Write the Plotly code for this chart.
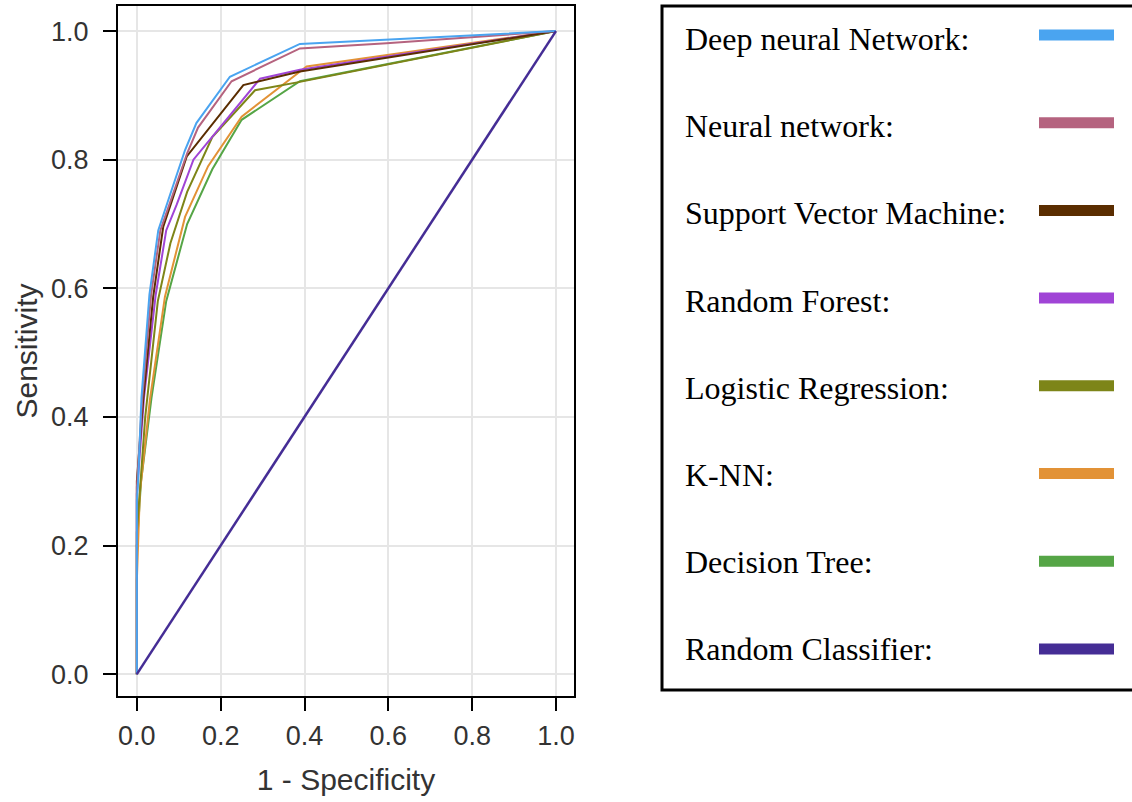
import plotly.graph_objects as go

# ---------------- data ----------------
model_names = ["Deep neural Network", "Neural network", "Support Vector Machine",
               "Random Forest", "Logistic Regression", "K-NN", "Decision Tree",
               "Random Classifier"]
model_colors = ["#4aa4f0", "#b5637f", "#5a2d00", "#a044d6", "#7d8518",
                "#e29236", "#55a546", "#452d95"]

dnn_fpr = [0, 0, 0.003, 0.011, 0.03, 0.051, 0.079, 0.115, 0.142, 0.222, 0.389, 1.0]
dnn_tpr = [0, 0.27, 0.30, 0.43, 0.59, 0.69, 0.745, 0.815, 0.857, 0.929, 0.980, 1.0]

nn_fpr = [0, 0, 0.013, 0.034, 0.056, 0.083, 0.12, 0.146, 0.226, 0.389, 0.596, 1.0]
nn_tpr = [0, 0.29, 0.43, 0.59, 0.69, 0.74, 0.81, 0.85, 0.922, 0.973, 0.981, 1.0]

svm_fpr = [0, 0, 0.015, 0.039, 0.063, 0.079, 0.119, 0.254, 0.389, 1.0]
svm_tpr = [0, 0.30, 0.426, 0.587, 0.696, 0.727, 0.805, 0.916, 0.937, 1.0]

rf_fpr = [0, 0, 0.017, 0.045, 0.07, 0.095, 0.135, 0.294, 0.389, 1.0]
rf_tpr = [0, 0.28, 0.43, 0.59, 0.69, 0.73, 0.80, 0.926, 0.94, 1.0]

lr_fpr = [0, 0, 0.02, 0.05, 0.08, 0.12, 0.18, 0.282, 0.389, 1.0]
lr_tpr = [0, 0.22, 0.40, 0.58, 0.67, 0.75, 0.835, 0.908, 0.921, 1.0]

knn_fpr = [0, 0, 0.007, 0.031, 0.067, 0.115, 0.17, 0.25, 0.405, 1.0]
knn_tpr = [0, 0.146, 0.28, 0.426, 0.587, 0.711, 0.79, 0.867, 0.945, 1.0]

dt_fpr = [0, 0, 0.01, 0.035, 0.07, 0.12, 0.18, 0.25, 0.389, 1.0]
dt_tpr = [0, 0.20, 0.30, 0.43, 0.58, 0.70, 0.785, 0.862, 0.922, 1.0]

rc_fpr = [0, 1.0]
rc_tpr = [0, 1.0]

x_ticks = [0.0, 0.2, 0.4, 0.6, 0.8, 1.0]
y_ticks = [0.0, 0.2, 0.4, 0.6, 0.8, 1.0]
x_tick_labels = ["0.0", "0.2", "0.4", "0.6", "0.8", "1.0"]
y_tick_labels = ["0.0", "0.2", "0.4", "0.6", "0.8", "1.0"]

curves_x = [dnn_fpr, nn_fpr, svm_fpr, rf_fpr, lr_fpr, knn_fpr, dt_fpr, rc_fpr]
curves_y = [dnn_tpr, nn_tpr, svm_tpr, rf_tpr, lr_tpr, knn_tpr, dt_tpr, rc_tpr]

# ---------------- figure ----------------
W, H = 1132, 802


def px(x):
    return x / W


def py(y):
    return 1 - y / H


fig = go.Figure()
draw_order = [6, 5, 4, 3, 2, 1, 0, 7]
for i in draw_order:
    fig.add_trace(go.Scatter(
        x=curves_x[i], y=curves_y[i], mode="lines", name=model_names[i],
        line=dict(color=model_colors[i], width=2.5 if i == 7 else 2),
        showlegend=False, hoverinfo="skip"))

axis_font = dict(family="Liberation Sans, Arial, sans-serif", size=27, color="#333333")
title_font = dict(family="Liberation Sans, Arial, sans-serif", size=30, color="#333333")

fig.update_layout(
    width=W, height=H,
    margin=dict(l=0, r=0, t=0, b=0),
    paper_bgcolor="white", plot_bgcolor="white",
    xaxis=dict(domain=[px(118), px(574)], range=[-0.045, 1.043],
               tickvals=x_ticks, ticktext=x_tick_labels, tickfont=axis_font,
               ticks="outside", ticklen=13, tickwidth=2, tickcolor="black",
               ticklabelstandoff=2,
               showline=True, linewidth=2, linecolor="black", mirror=True,
               showgrid=True, gridcolor="#e6e6e6", gridwidth=2, zeroline=False,
               title=dict(text="1 - Specificity", font=title_font, standoff=19),
               automargin=False),
    yaxis=dict(domain=[py(696), py(6)], range=[-0.034, 1.039],
               tickvals=y_ticks, ticktext=y_tick_labels, tickfont=axis_font,
               ticks="outside", ticklen=13, tickwidth=2, tickcolor="black",
               ticklabelstandoff=9,
               showline=True, linewidth=2, linecolor="black", mirror=True,
               showgrid=True, gridcolor="#e6e6e6", gridwidth=2, zeroline=False,
               title=dict(text="Sensitivity", font=title_font, standoff=5),
               automargin=False),
)

# ---------------- custom legend box ----------------
shapes = [dict(type="rect", xref="paper", yref="paper",
               x0=px(662), x1=px(1136), y0=py(690), y1=py(6),
               line=dict(color="black", width=3), fillcolor="rgba(0,0,0,0)")]
annotations = []
for i, name in enumerate(model_names):
    text_y = 38.5 + i * 87.2
    sw_y = 35 + i * 87.7
    annotations.append(dict(
        xref="paper", yref="paper", x=px(683), y=py(text_y + 0.5),
        xanchor="left", yanchor="middle", showarrow=False,
        text=name + ":",
        font=dict(family="Liberation Serif, Times New Roman, serif", size=32, color="black")))
    shapes.append(dict(type="line", xref="paper", yref="paper",
                       x0=px(1039), x1=px(1114), y0=py(sw_y), y1=py(sw_y),
                       line=dict(color=model_colors[i], width=11)))

fig.update_layout(shapes=shapes, annotations=annotations)

fig.write_html("out.html", config={"displayModeBar": False},
               post_script="document.body.style.margin='0';")
